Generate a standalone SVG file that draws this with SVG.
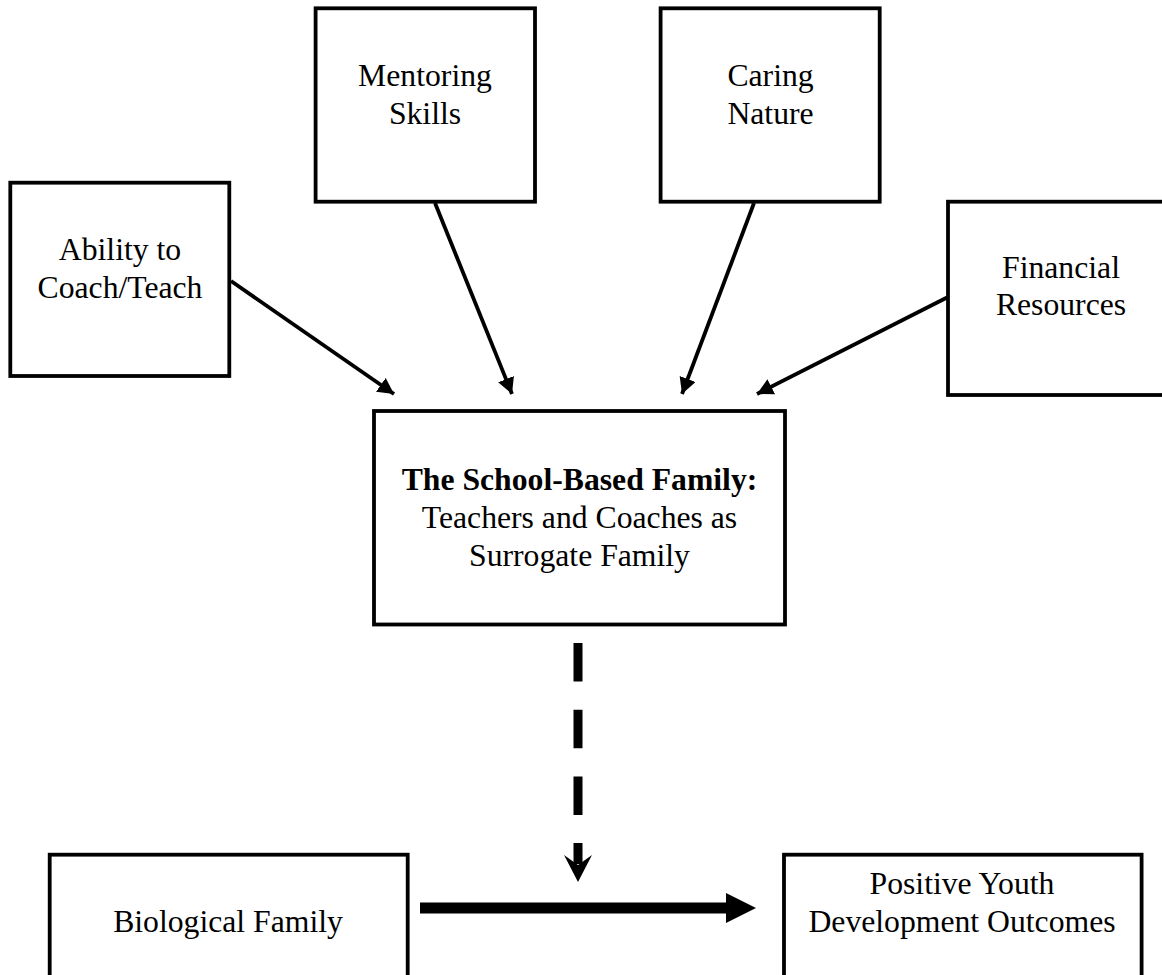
<svg xmlns="http://www.w3.org/2000/svg" width="1162" height="975" viewBox="0 0 1162 975">
<defs>
<style>
.box{fill:#fff;stroke:#000;stroke-width:3.8}
.t{font-family:"Liberation Serif","Times New Roman",serif;font-size:31.7px;fill:#000;text-anchor:middle}
.b{font-weight:bold}
.ln{stroke:#000;stroke-width:3.8;fill:none}
.hd{fill:#000}
</style>
<marker id="ah" markerUnits="userSpaceOnUse" markerWidth="18" markerHeight="18" refX="16" refY="8.5" orient="auto">
<path class="hd" d="M0,0 L16,8.5 L0,17 Z"/>
</marker>
</defs>
<rect width="1162" height="975" fill="#fff"/>
<g id="connectors">
<line class="ln" x1="231" y1="281" x2="394" y2="394" marker-end="url(#ah)"/>
<line class="ln" x1="435" y1="203" x2="512" y2="394" marker-end="url(#ah)"/>
<line class="ln" x1="754" y1="203" x2="682" y2="394" marker-end="url(#ah)"/>
<line class="ln" x1="948" y1="297" x2="757" y2="394" marker-end="url(#ah)"/>
<line x1="578" y1="643" x2="578" y2="864" stroke="#000" stroke-width="9" stroke-dasharray="38.5 28.2"/>
<polygon class="hd" points="564,855 578,882 592,855 578,865"/>
<rect x="420" y="902.5" width="308" height="11" fill="#000"/>
<polygon class="hd" points="726,893 756,908 726,923"/>
</g>
<g id="ability">
<rect class="box" x="10.3" y="182.7" width="219" height="193.3"/>
<text class="t" x="120" y="260">Ability to</text>
<text class="t" x="120" y="297.7">Coach/Teach</text>
</g>
<g id="mentoring">
<rect class="box" x="315.6" y="8.3" width="219.4" height="193.4"/>
<text class="t" x="425" y="86">Mentoring</text>
<text class="t" x="425" y="124">Skills</text>
</g>
<g id="caring">
<rect class="box" x="660.6" y="8.3" width="219.1" height="193.4"/>
<text class="t" x="770.5" y="86">Caring</text>
<text class="t" x="770.5" y="124">Nature</text>
</g>
<g id="financial">
<rect class="box" x="948" y="201.7" width="219" height="193.3"/>
<text class="t" x="1061" y="278.3">Financial</text>
<text class="t" x="1061" y="315">Resources</text>
</g>
<g id="school">
<rect class="box" x="374" y="411" width="411" height="213.5"/>
<text class="t b" x="579.5" y="490">The School-Based Family:</text>
<text class="t" x="579.5" y="528">Teachers and Coaches as</text>
<text class="t" x="579.5" y="566">Surrogate Family</text>
</g>
<g id="biological">
<rect class="box" x="49.7" y="854.7" width="358" height="125"/>
<text class="t" x="228" y="931.7">Biological Family</text>
</g>
<g id="outcomes">
<rect class="box" x="784" y="854.7" width="357.6" height="125"/>
<text class="t" x="962" y="894">Positive Youth</text>
<text class="t" x="962" y="932">Development Outcomes</text>
</g>
</svg>
